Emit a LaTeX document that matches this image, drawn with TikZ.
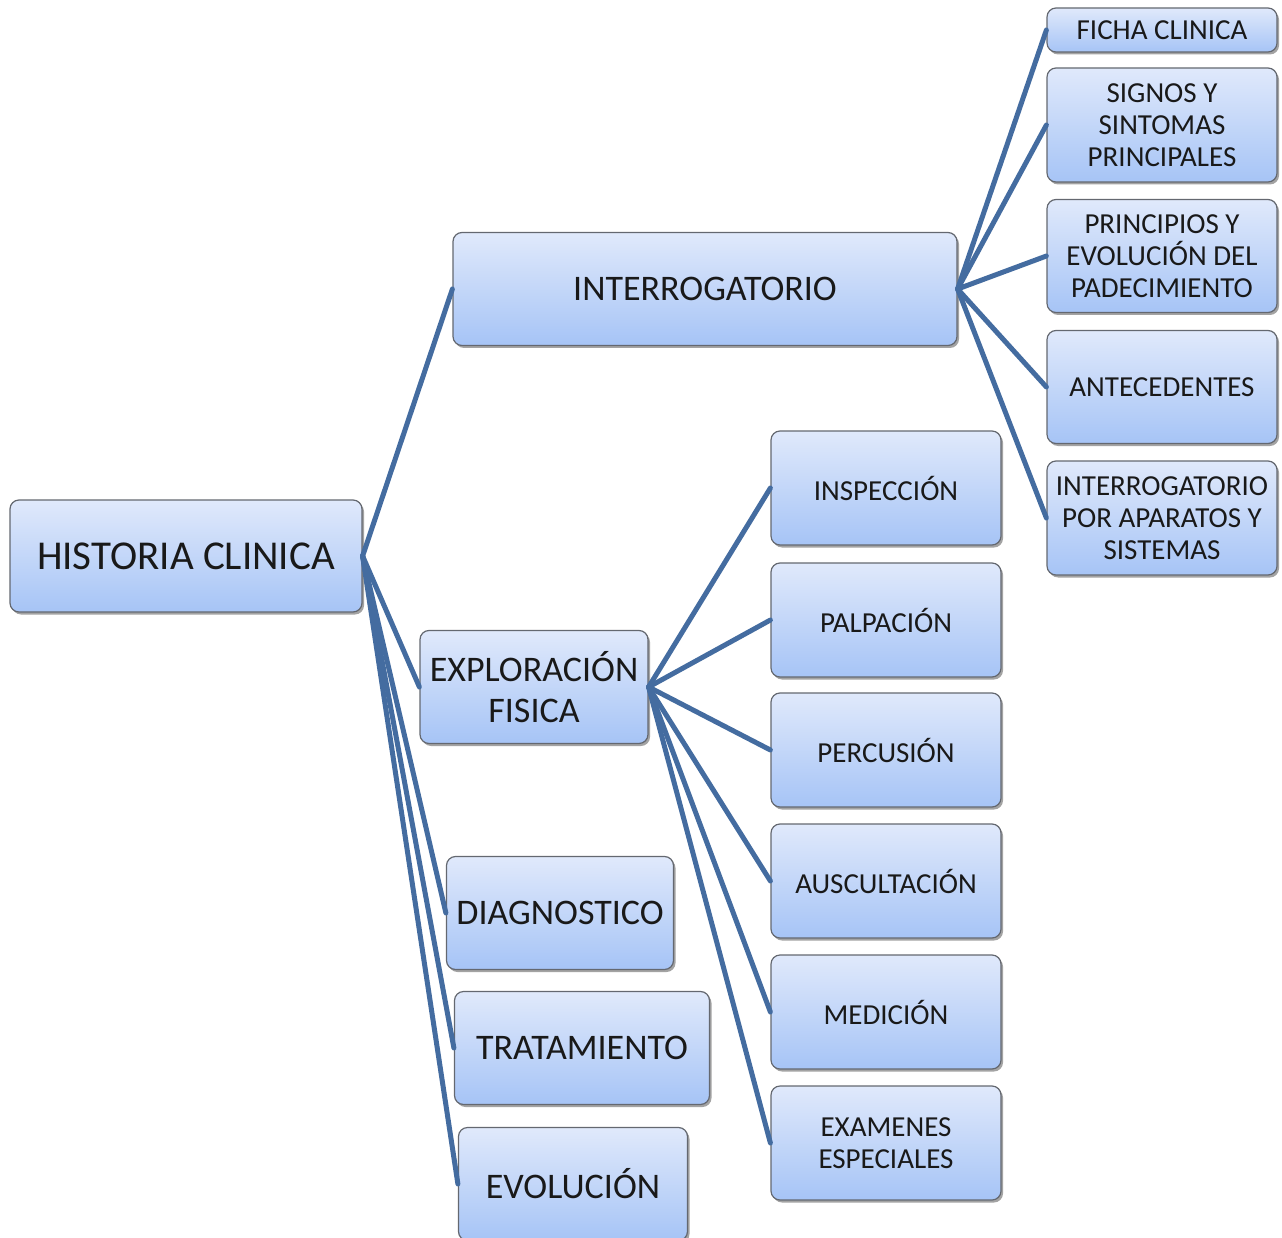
\documentclass[tikz,border=0pt]{standalone}
\usepackage{fontspec}
\setmainfont{Carlito}
\usetikzlibrary{shadows}
\definecolor{boxtop}{RGB}{224,233,251}
\definecolor{boxbottom}{RGB}{166,196,246}
\definecolor{boxedge}{RGB}{100,104,112}
\definecolor{linkblue}{RGB}{68,108,160}

\begin{document}
\begin{tikzpicture}[x=1pt, y=-1pt,
    box/.style={draw=boxedge, line width=1.2pt, rounded corners=9pt,
        top color=boxtop, bottom color=boxbottom, inner sep=0pt, align=center,
        text=black!90, drop shadow={shadow xshift=2pt, shadow yshift=-2.5pt, fill=black!45, opacity=0.8}},
    rootbox/.style={box, minimum width=352pt, minimum height=112pt,
        font=\fontsize{41}{46}\selectfont},
    midbox/.style={box, minimum height=113pt, font=\fontsize{36}{41}\selectfont},
    leafbox/.style={box, minimum width=230pt, minimum height=114pt,
        font=\fontsize{29}{32}\selectfont},
    link/.style={draw=linkblue, line width=5pt, line cap=round}]
    \useasboundingbox (0,0) rectangle (1282,1238);

    % main node
    \node[rootbox] (hc) at (186,556) {HISTORIA CLINICA};

    % second level
    \node[midbox, minimum width=504pt] (intg) at (705,289) {INTERROGATORIO};
    \node[midbox, minimum width=228pt] (expl) at (534,687) {EXPLORACIÓN\\FISICA};
    \node[midbox, minimum width=227pt] (diag) at (560,913) {DIAGNOSTICO};
    \node[midbox, minimum width=255pt] (trat) at (582,1048) {TRATAMIENTO};
    \node[midbox, minimum width=229pt] (evol) at (573,1184) {EVOLUCIÓN};

    % interrogatorio
    \node[leafbox, minimum height=44pt] (ficha) at (1162,30) {FICHA CLINICA};
    \node[leafbox] (signos) at (1162,125) {SIGNOS Y\\SINTOMAS\\PRINCIPALES};
    \node[leafbox, minimum height=113pt] (princ) at (1162,256) {PRINCIPIOS Y\\EVOLUCIÓN DEL\\PADECIMIENTO};
    \node[leafbox, minimum height=113pt] (antec) at (1162,387) {ANTECEDENTES};
    \node[leafbox] (apar) at (1162,518) {INTERROGATORIO\\POR APARATOS Y\\SISTEMAS};

    % exploracion fisica
    \node[leafbox] (insp) at (886,488) {INSPECCIÓN};
    \node[leafbox] (palp) at (886,620) {PALPACIÓN};
    \node[leafbox] (perc) at (886,750) {PERCUSIÓN};
    \node[leafbox] (ausc) at (886,881) {AUSCULTACIÓN};
    \node[leafbox] (medi) at (886,1012) {MEDICIÓN};
    \node[leafbox] (exam) at (886,1143) {EXAMENES\\ESPECIALES};

    \foreach \n in {intg,expl,diag,trat,evol}
        \draw[link] (hc.east) -- (\n.west);
    \foreach \n in {ficha,signos,princ,antec,apar}
        \draw[link] (intg.east) -- (\n.west);
    \foreach \n in {insp,palp,perc,ausc,medi,exam}
        \draw[link] (expl.east) -- (\n.west);
\end{tikzpicture}
\end{document}
